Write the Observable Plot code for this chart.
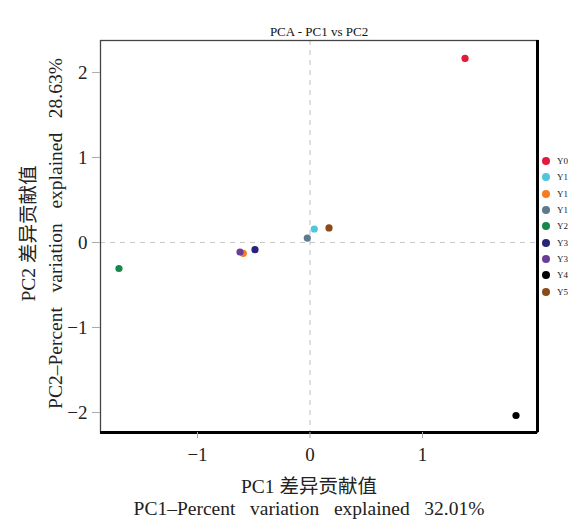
<!DOCTYPE html>
<html>
<head>
<meta charset="utf-8">
<script src="https://cdn.jsdelivr.net/npm/d3@7"></script>
<script src="https://cdn.jsdelivr.net/npm/@observablehq/plot@0.6"></script>
<style>
  html, body { margin: 0; padding: 0; background: #fff; }
  #wrap { position: relative; width: 572px; height: 519px; }
  #legend { position: absolute; left: 542px; top: 153px; font-family: "Liberation Serif", serif; font-size: 9px; color: #222; }
  #legend .row { height: 16.3px; display: flex; align-items: center; }
  #legend .sw { width: 8px; height: 8px; border-radius: 50%; margin-right: 7px; }
</style>
</head>
<body>
<div id="wrap"></div>
<script>
const samples = ["Y0", "Y1", "Y1", "Y1", "Y2", "Y3", "Y3", "Y4", "Y5"];
const pc1 = [1.378, 0.038, -0.593, -0.024, -1.698, -0.489, -0.622, 1.831, 0.169];
const pc2 = [2.165, 0.159, -0.127, 0.052, -0.306, -0.085, -0.112, -2.035, 0.171];
const colors = ["#e31a3c", "#4fc6dc", "#f57d20", "#5e7a8c", "#17884a", "#27247a", "#6a3d9a", "#000000", "#8b4a17"];
const xTicks = [-1, 0, 1];
const yTicks = [-2, -1, 0, 1, 2];
const title = "PCA - PC1 vs PC2";
const sp = "\u00a0\u00a0\u00a0";
const xLabel1 = "PC1 差异贡献值";
const xLabel2 = ["PC1\u2013Percent", "variation", "explained", "32.01%"].join(sp);
const yLabel1 = "PC2 差异贡献值";
const yLabel2 = ["PC2\u2013Percent", "variation", "explained", "28.63%"].join(sp);

const data = samples.map((s, i) => ({sample: s, x: pc1[i], y: pc2[i], color: colors[i]}));
const xDomain = [-1.862, 2.022];
const yDomain = [-2.235, 2.376];
const serif = "Liberation Serif, Noto Sans CJK SC, serif";
const fmt = d => (d < 0 ? "\u2212" : "") + Math.abs(d);
const lbl = {fill: "#222", fontFamily: serif, textAnchor: "middle", lineAnchor: "middle"};

const chart = Plot.plot({
  width: 572,
  height: 519,
  marginLeft: 100,
  marginRight: 35,
  marginTop: 40,
  marginBottom: 87,
  style: {fontFamily: serif, background: "#fff"},
  x: {domain: xDomain},
  y: {domain: yDomain},
  marks: [
    Plot.ruleX([0], {stroke: "#c8c8c8", strokeDasharray: "5,5", strokeWidth: 1.2}),
    Plot.ruleY([0], {stroke: "#c8c8c8", strokeDasharray: "5,5", strokeWidth: 1.2}),
    Plot.frame({stroke: "#444", strokeWidth: 1.3}),
    Plot.ruleY([yDomain[0]], {stroke: "#000", strokeWidth: 3}),
    Plot.ruleX([xDomain[1]], {stroke: "#000", strokeWidth: 3}),
    Plot.axisX({ticks: xTicks, tickFormat: fmt, tickSize: 6, stroke: "#aaa", fontSize: 19, tickPadding: 9, label: null, color: "#222", fontFamily: serif}),
    Plot.axisY({ticks: yTicks, tickFormat: fmt, tickSize: 8, stroke: "#aaa", fontSize: 19, tickPadding: 5, label: null, color: "#222", fontFamily: serif}),
    Plot.dot(data, {x: "x", y: "y", fill: "color", r: 3.6}),
    Plot.text([title], {...lbl, frameAnchor: "top", dy: -9, fontSize: 13, fill: "#111"}),
    Plot.text([xLabel1], {...lbl, frameAnchor: "bottom", dx: -10, dy: 54, fontSize: 19.5}),
    Plot.text([xLabel2], {...lbl, frameAnchor: "bottom", dx: -10, dy: 76, fontSize: 19.5}),
    Plot.text([yLabel1], {...lbl, frameAnchor: "left", dx: -72, dy: -3, rotate: -90, fontSize: 19.5}),
    Plot.text([yLabel2], {...lbl, frameAnchor: "left", dx: -45, dy: -3, rotate: -90, fontSize: 19.5})
  ]
});

const wrap = document.getElementById("wrap");
wrap.appendChild(chart);
const legend = document.createElement("div");
legend.id = "legend";
samples.forEach((s, i) => {
  const row = document.createElement("div");
  row.className = "row";
  const sw = document.createElement("span");
  sw.className = "sw";
  sw.style.background = colors[i];
  const t = document.createElement("span");
  t.textContent = s;
  row.appendChild(sw);
  row.appendChild(t);
  legend.appendChild(row);
});
wrap.appendChild(legend);
</script>
</body>
</html>
